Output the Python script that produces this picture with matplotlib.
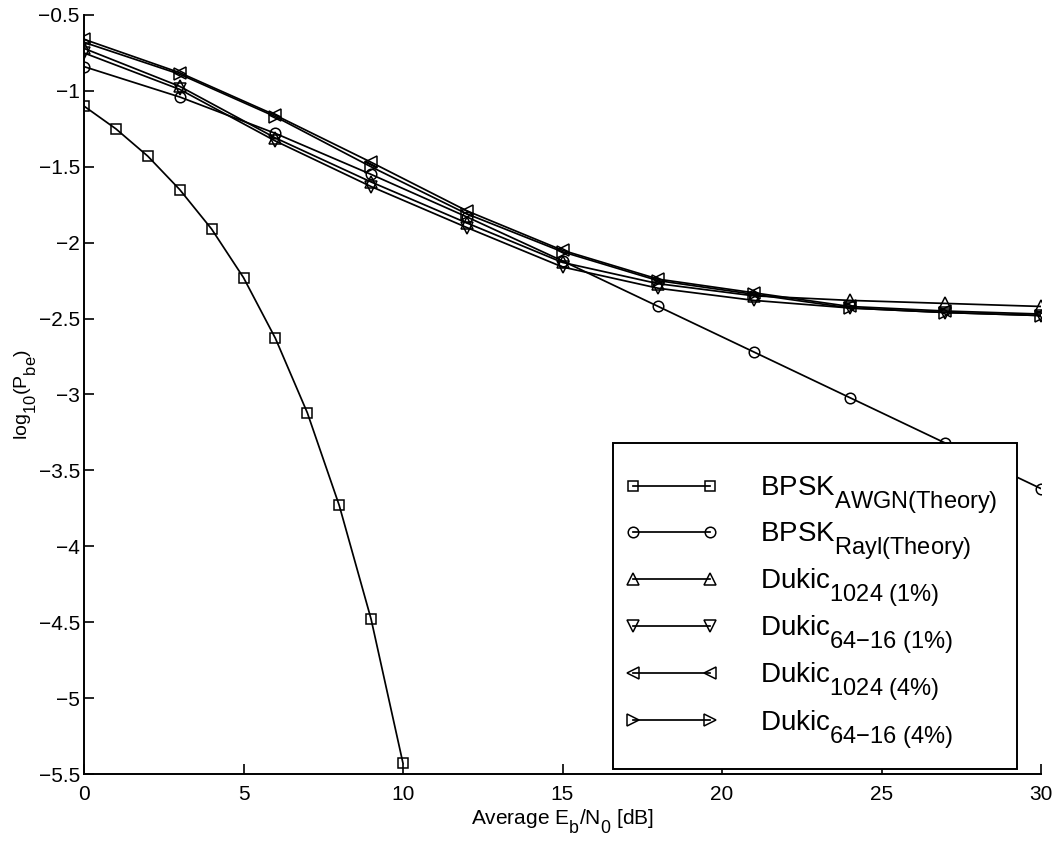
import matplotlib
matplotlib.use("Agg")
import matplotlib.pyplot as plt
from matplotlib.patches import Rectangle
import matplotlib._mathtext as _mt

plt.rcParams['font.family'] = ['Liberation Sans', 'DejaVu Sans']
plt.rcParams['mathtext.fontset'] = 'custom'
plt.rcParams['mathtext.rm'] = 'Liberation Sans'
plt.rcParams['mathtext.it'] = 'Liberation Sans:italic'
plt.rcParams['mathtext.bf'] = 'Liberation Sans:bold'

# Larger, lower subscripts (closer to the TeX-style labels of the original plot tool)
_mt.SHRINK_FACTOR = 0.85
_mt.FontConstantsBase.sub1 = 0.9

# Eb/N0 grids [dB]
ebn0_awgn = [0, 1, 2, 3, 4, 5, 6, 7, 8, 9, 10]
ebn0_sim = [0, 3, 6, 9, 12, 15, 18, 21, 24, 27, 30]

# log10 of bit error probability
bpsk_awgn = [-1.10, -1.25, -1.43, -1.65, -1.91, -2.23, -2.63, -3.12, -3.73, -4.48, -5.43]
bpsk_rayl = [-0.84, -1.04, -1.28, -1.55, -1.83, -2.12, -2.42, -2.72, -3.02, -3.32, -3.62]
dukic_1024_1 = [-0.72, -0.97, -1.31, -1.60, -1.87, -2.13, -2.27, -2.35, -2.38, -2.40, -2.42]
dukic_6416_1 = [-0.75, -0.99, -1.33, -1.63, -1.90, -2.16, -2.30, -2.38, -2.43, -2.46, -2.48]
dukic_1024_4 = [-0.66, -0.88, -1.16, -1.47, -1.79, -2.05, -2.24, -2.33, -2.42, -2.45, -2.47]
dukic_6416_4 = [-0.68, -0.89, -1.17, -1.50, -1.81, -2.06, -2.25, -2.34, -2.43, -2.46, -2.48]

labels = [
    r'BPSK$_{\mathrm{AWGN(Theory)}}$',
    r'BPSK$_{\mathrm{Rayl(Theory)}}$',
    r'Dukic$_{\mathrm{1024\ (1\%)}}$',
    r'Dukic$_{\mathrm{64{-}16\ (1\%)}}$',
    r'Dukic$_{\mathrm{1024\ (4\%)}}$',
    r'Dukic$_{\mathrm{64{-}16\ (4\%)}}$',
]

fig = plt.figure(figsize=(10.55, 8.43), dpi=100)
ax = fig.add_axes([84 / 1055, 1 - 774 / 843, (1041 - 84) / 1055, (774 - 15) / 843])

style = dict(color='black', lw=1.25, markerfacecolor='none',
             markeredgecolor='black', markeredgewidth=1.1, zorder=2)

ax.plot(ebn0_awgn, bpsk_awgn, marker='s', markersize=7.2, label=labels[0], **style)
ax.plot(ebn0_sim, bpsk_rayl, marker='o', markersize=7.6, label=labels[1], **style)
ax.plot(ebn0_sim, dukic_1024_1, marker='^', markersize=8.5, label=labels[2], **style)
ax.plot(ebn0_sim, dukic_6416_1, marker='v', markersize=8.5, label=labels[3], **style)
ax.plot(ebn0_sim, dukic_1024_4, marker='<', markersize=8.5, label=labels[4], **style)
ax.plot(ebn0_sim, dukic_6416_4, marker='>', markersize=8.5, label=labels[5], **style)

ax.set_xlim(0, 30)
ax.set_ylim(-5.5, -0.5)
ax.set_xticks([0, 5, 10, 15, 20, 25, 30])
ax.set_yticks([-0.5, -1, -1.5, -2, -2.5, -3, -3.5, -4, -4.5, -5, -5.5])
ax.set_yticklabels(['\u22120.5', '\u22121', '\u22121.5', '\u22122', '\u22122.5', '\u22123',
                    '\u22123.5', '\u22124', '\u22124.5', '\u22125', '\u22125.5'])

for side in ('top', 'right'):
    ax.spines[side].set_visible(False)
for side in ('left', 'bottom'):
    ax.spines[side].set_linewidth(1.4)

ax.tick_params(direction='in', length=7, width=1.2, labelsize=15)
ax.tick_params(axis='y', pad=3)
ax.tick_params(axis='x', pad=8)
ax.set_xlabel(r'Average E$_{\mathrm{b}}$/N$_{\mathrm{0}}$ [dB]', fontsize=15, labelpad=2)
ax.set_ylabel(r'log$_{\mathrm{10}}$(P$_{\mathrm{be}}$)', fontsize=14, labelpad=0)

# Legend box drawn as a plain rectangle so its extent is fixed
box = Rectangle((0.5528, 0.0066), 0.9749 - 0.5528, 0.4361 - 0.0066,
                transform=ax.transAxes, facecolor='white', edgecolor='black',
                lw=1.4, zorder=4.5, clip_on=False)
ax.add_patch(box)

leg = ax.legend(loc='upper left', bbox_to_anchor=(0.565, 0.3945),
                prop={'size': 20}, numpoints=2, handlelength=3.37,
                handletextpad=1.5, borderpad=0, labelspacing=0.17,
                frameon=False, borderaxespad=0)
leg.set_zorder(5)

fig.savefig('out.png', dpi=100, facecolor='white')
